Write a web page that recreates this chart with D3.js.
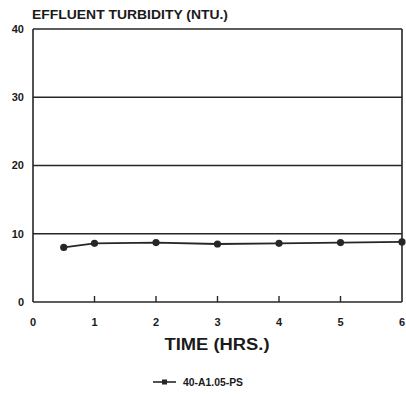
<!DOCTYPE html>
<html>
<head>
<meta charset="utf-8">
<script src="https://cdn.jsdelivr.net/npm/d3@7"></script>
<style>
  html, body { margin: 0; padding: 0; background: #fff; }
  svg { display: block; }
  text { font-family: "Liberation Sans", Arial, sans-serif; font-weight: bold; fill: #1a1a1a; }
</style>
</head>
<body>
<svg id="chart" width="406" height="396"></svg>
<script>
// Effluent turbidity over time
const hours = [0.5, 1, 2, 3, 4, 5, 6];
const turbidity = [8.0, 8.6, 8.7, 8.5, 8.6, 8.7, 8.8];
const xTicks = [0, 1, 2, 3, 4, 5, 6];
const yTicks = [0, 10, 20, 30, 40];
const seriesName = "40-A1.05-PS";

const svg = d3.select("#chart");
const ink = "#262626";

const x = d3.scaleLinear().domain([0, 6]).range([33, 402]);
const y = d3.scaleLinear().domain([0, 40]).range([302, 29]);

// horizontal rules at each y tick (frame top and bottom included)
svg.append("g").selectAll("line")
  .data(yTicks)
  .join("line")
  .attr("x1", x(0)).attr("x2", x(6))
  .attr("y1", d => y(d)).attr("y2", d => y(d))
  .attr("stroke", ink).attr("stroke-width", 1.6);

// left and right frame edges
svg.append("g").selectAll("line")
  .data([0, 6])
  .join("line")
  .attr("x1", d => x(d)).attr("x2", d => x(d))
  .attr("y1", y(0)).attr("y2", y(40))
  .attr("stroke", ink).attr("stroke-width", 1.6);

// short inward ticks along the bottom
svg.append("g").selectAll("line")
  .data(xTicks.filter(d => d > 0 && d < 6))
  .join("line")
  .attr("x1", d => x(d)).attr("x2", d => x(d))
  .attr("y1", y(0)).attr("y2", y(0) - 6)
  .attr("stroke", ink).attr("stroke-width", 1.4);

// y tick labels
svg.append("g").selectAll("text")
  .data(yTicks)
  .join("text")
  .attr("x", 24).attr("y", d => y(d))
  .attr("dy", "0.36em")
  .attr("text-anchor", "end")
  .attr("font-size", 11)
  .text(d => d);

// x tick labels
svg.append("g").selectAll("text")
  .data(xTicks)
  .join("text")
  .attr("x", d => x(d)).attr("y", 322)
  .attr("dy", "0.36em")
  .attr("text-anchor", "middle")
  .attr("font-size", 11)
  .text(d => d);

// title and axis label
svg.append("text")
  .attr("x", 32).attr("y", 19)
  .attr("font-size", 12)
  .attr("textLength", 196).attr("lengthAdjust", "spacingAndGlyphs")
  .text("EFFLUENT TURBIDITY (NTU.)");

svg.append("text")
  .attr("x", 217).attr("y", 350)
  .attr("text-anchor", "middle")
  .attr("font-size", 16)
  .attr("textLength", 105).attr("lengthAdjust", "spacingAndGlyphs")
  .text("TIME (HRS.)");

// data line and markers
const line = d3.line().x((d, i) => x(hours[i])).y(d => y(d));
svg.append("path")
  .datum(turbidity)
  .attr("d", line)
  .attr("fill", "none")
  .attr("stroke", ink).attr("stroke-width", 1.8);

svg.append("g").selectAll("circle")
  .data(turbidity)
  .join("circle")
  .attr("cx", (d, i) => x(hours[i]))
  .attr("cy", d => y(d))
  .attr("r", 3.6)
  .attr("fill", ink);

// legend
const lg = svg.append("g").attr("transform", "translate(153,382)");
lg.append("line").attr("x1", 0).attr("x2", 23).attr("y1", 0).attr("y2", 0)
  .attr("stroke", ink).attr("stroke-width", 1.6);
lg.append("rect").attr("x", 9).attr("y", -2.5).attr("width", 5).attr("height", 5).attr("fill", ink);
lg.append("text").attr("x", 30).attr("y", 0).attr("dy", "0.36em")
  .attr("font-size", 10)
  .attr("textLength", 60).attr("lengthAdjust", "spacingAndGlyphs")
  .text(seriesName);
</script>
</body>
</html>
